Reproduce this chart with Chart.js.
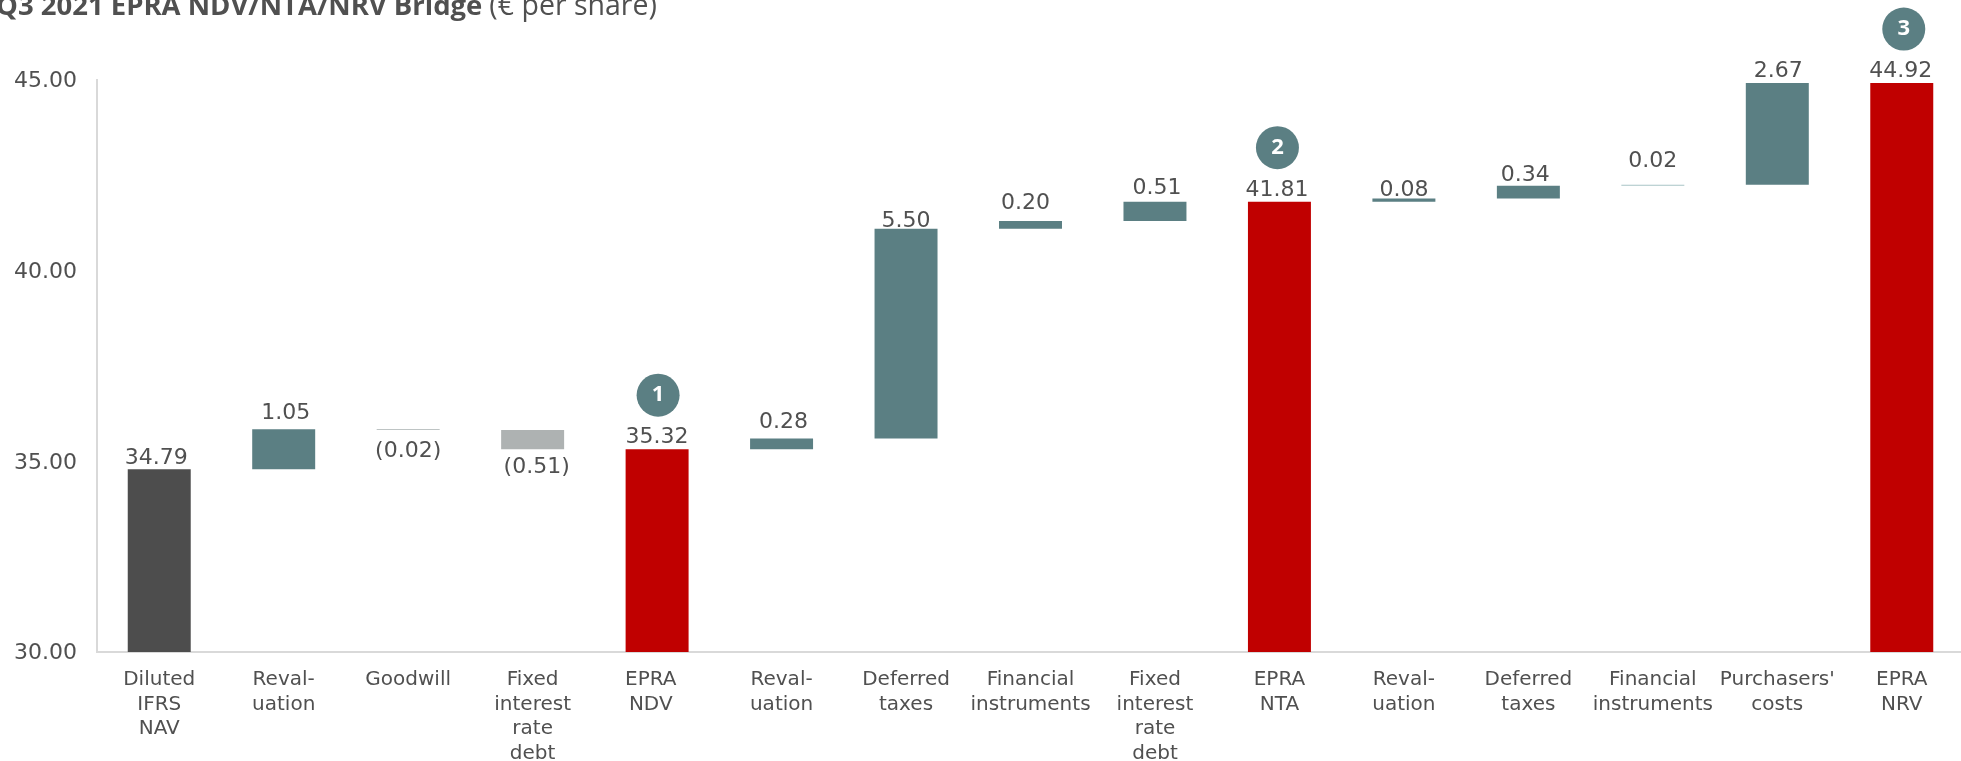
<!DOCTYPE html>
<html>
<head>
<meta charset="utf-8">
<title>Q3 2021 EPRA NDV/NTA/NRV Bridge</title>
<script src="https://cdn.jsdelivr.net/npm/chart.js@4"></script>
<style>
html, body { margin: 0; padding: 0; background: #fff; overflow: hidden; width: 1961px; height: 761px; }
#wrap { position: relative; width: 1961px; height: 761px; overflow: hidden; }
#bridge { position: absolute; left: 0; top: 0; }
</style>
</head>
<body>
<div id="wrap"><canvas id="bridge" width="1964" height="761" style="width:1964px;height:761px"></canvas></div>
<script>
// bridge data
var categories = [
	['Diluted', 'IFRS', 'NAV'], ['Reval-', 'uation'], ['Goodwill'], ['Fixed', 'interest', 'rate', 'debt'], ['EPRA  ', 'NDV  '],
	['Reval-', 'uation'], ['Deferred', 'taxes'], ['Financial', 'instruments'], ['Fixed', 'interest', 'rate', 'debt'], ['EPRA', 'NTA'],
	['Reval-', 'uation'], ['Deferred', 'taxes'], ['Financial', 'instruments'], ["Purchasers'", 'costs'], ['EPRA', 'NRV']
];
var barLow = [30, 34.79, 35.82, 35.32, 30, 35.32, 35.60, 41.10, 41.30, 30, 41.81, 41.89, 42.23, 42.25, 30];
var barHigh = [34.79, 35.84, 35.84, 35.82, 35.32, 35.60, 41.10, 41.30, 41.81, 41.81, 41.89, 42.23, 42.25, 44.92, 44.92];
var valueLabels = ['34.79', '1.05', '(0.02)', '(0.51)', '35.32', '0.28', '5.50', '0.20', '0.51', '41.81', '0.08', '0.34', '0.02', '2.67', '44.92'];
var tickLabels = { 30: '30.00', 35: '35.00', 40: '40.00', 45: '45.00' };
var badgeBars = [4, 9, 14];

// looks
var barColors = ['#4d4d4d', '#5b7f83', '#a9b0b0', '#aeb2b2', '#c00000', '#5b7f83', '#5b7f83', '#5b7f83', '#5b7f83', '#c00000', '#5b7f83', '#5b7f83', '#a9c4c6', '#5b7f83', '#c00000'];
var labelDx = [-3, 2, 0, 4, 0, 2, 0, -5, 2, -2.5, 0, -3, 0, 1, -1];
var labelDy = [-11, -16, 21, 18, -12, -16, -7, -18, -13.5, -11, -8, -10, -24, -12, -12];
var badgeDx = [1, -2, 2];
var textColor = '#505050';

var bridgeLabels = {
	id: 'bridgeLabels',
	afterDatasetsDraw: function(chart) {
		var ctx = chart.ctx;
		var meta = chart.getDatasetMeta(0);
		var y = chart.scales.y;
		ctx.save();
		ctx.textAlign = 'center';
		ctx.textBaseline = 'middle';
		ctx.fillStyle = textColor;
		ctx.font = '22px "DejaVu Sans"';
		valueLabels.forEach(function(txt, i) {
			// negative steps hang under the bar, the rest sit on top
			var below = labelDy[i] > 0;
			var base = y.getPixelForValue(below ? barLow[i] : barHigh[i]);
			ctx.fillText(txt, meta.data[i].x + labelDx[i], base + labelDy[i]);
		});

		// numbered circles over the EPRA totals
		badgeBars.forEach(function(b, n) {
			var cx = meta.data[b].x + badgeDx[n];
			var cy = y.getPixelForValue(barHigh[b]) - 54;
			ctx.beginPath();
			ctx.arc(cx, cy, 21.5, 0, Math.PI * 2);
			ctx.fillStyle = '#5b7f83';
			ctx.fill();
			ctx.fillStyle = '#fff';
			ctx.font = 'bold 22px "Open Sans"';
			ctx.fillText(String(n + 1), cx, cy);
		});

		// title, cut off by the page edge like the source
		ctx.textAlign = 'left';
		ctx.textBaseline = 'alphabetic';
		ctx.fillStyle = textColor;
		ctx.font = 'bold 27.5px "Open Sans"';
		ctx.fillText('Q3 2021 EPRA NDV/NTA/NRV Bridge', -4, 15);
		var w = ctx.measureText('Q3 2021 EPRA NDV/NTA/NRV Bridge').width;
		ctx.font = '28.5px "Open Sans"';
		ctx.fillText('(€ per share)', -4 + w + 7, 15);
		ctx.restore();
	}
};

var canvas_bridge = document.getElementById('bridge').getContext('2d');

window.bridge_chart = new Chart(canvas_bridge, {
	type: 'bar',
	data: {
		labels: categories,
		datasets: [{
			data: barLow.map(function(low, i) { return [low, barHigh[i]]; }),
			backgroundColor: barColors,
			borderWidth: 0,
			borderSkipped: false,
			barPercentage: 0.506,
			categoryPercentage: 1
		}]
	},
	options: {
		responsive: false,
		animation: false,
		layout: { padding: { top: 80, left: 0, right: 0, bottom: 0 } },
		plugins: { legend: { display: false }, tooltip: { enabled: false }, title: { display: false } },
		scales: {
			x: {
				afterFit: function(scale) { scale.height = 109; },
				grid: { display: false, drawTicks: false },
				border: { color: '#d9d9d9', width: 2 },
				ticks: {
					autoSkip: false,
					maxRotation: 0,
					minRotation: 0,
					padding: 16,
					color: textColor,
					font: { family: '"DejaVu Sans"', size: 20, lineHeight: 1.22 }
				}
			},
			y: {
				min: 30,
				max: 45,
				afterFit: function(scale) { scale.width = 97; },
				grid: { display: false, drawTicks: false },
				border: { color: '#d9d9d9', width: 2 },
				ticks: {
					stepSize: 5,
					padding: 20,
					labelOffset: 1.5,
					color: textColor,
					font: { family: '"DejaVu Sans"', size: 22 },
					callback: function(v) { return tickLabels[v]; }
				}
			}
		}
	},
	plugins: [bridgeLabels]
});
</script>
</body>
</html>
